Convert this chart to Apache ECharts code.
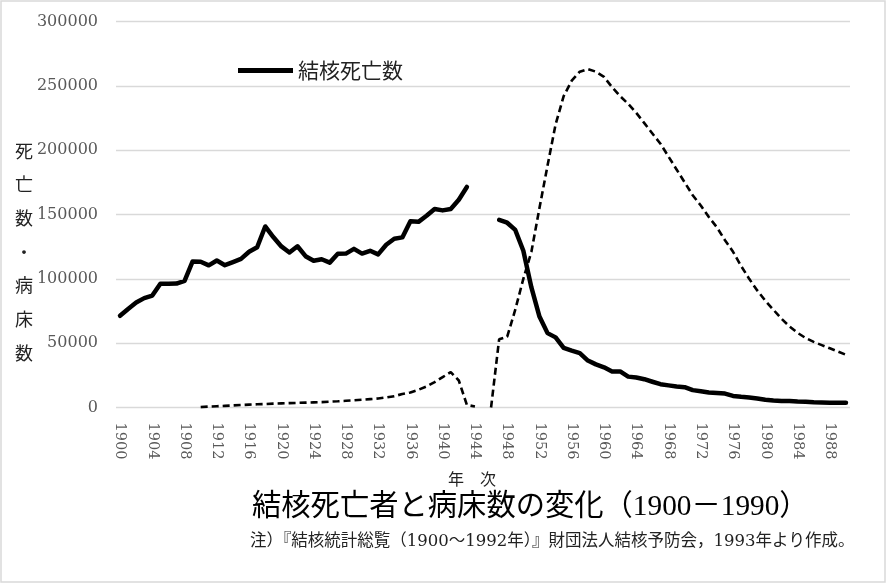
<!DOCTYPE html>
<html>
<head>
<meta charset="utf-8">
<script src="https://cdn.jsdelivr.net/npm/echarts@6/dist/echarts.min.js"></script>
<style>
  html, body { margin: 0; padding: 0; background: #fff; }
  #chart { width: 888px; height: 584px; }
</style>
</head>
<body>
<div id="chart"></div>
<script>
// years 1900..1990
const years = [];
for (let y = 1900; y <= 1990; y++) years.push(String(y));

// 結核死亡数 (1944-1946 no data)
const deaths = [
  71300, 76600, 81600, 85000, 87000, 96200, 96200, 96300, 98500, 113500,
  113300, 110500, 114200, 110600, 113000, 115500, 121000, 124500, 140700, 132500,
  125200, 120500, 125300, 117600, 114000, 115200, 112600, 119500, 119600, 123300,
  119600, 121800, 119000, 126500, 131200, 132200, 144800, 144300, 149000, 154300,
  153200, 154300, 161500, 171400, null, null, null, 145800, 143600, 138000,
  121800, 93300, 70700, 57800, 54500, 46300, 44200, 42300, 36500, 33500,
  31200, 28000, 28000, 24000, 23300, 22000, 20000, 18100, 17200, 16300,
  15800, 13500, 12600, 11700, 11200, 10800, 9000, 8300, 7800, 7000,
  6000, 5400, 5000, 5000, 4600, 4500, 4000, 3800, 3700, 3600,
  3600
];

// 病床数 (from 1910, 1945 no data)
const beds = [
  null, null, null, null, null, null, null, null, null, null,
  300, 700, 1000, 1300, 1600, 1900, 2200, 2500, 2700, 3000,
  3200, 3400, 3600, 3800, 4000, 4200, 4500, 4800, 5200, 5600,
  6000, 6500, 7000, 7800, 8800, 10500, 11700, 13800, 16300, 19700,
  23600, 27500, 21000, 2000, 800, null, 0, 53000, 55000, 76000,
  100000, 121000, 155000, 188000, 220000, 242000, 254000, 261000, 263000, 261000,
  257000, 249000, 242000, 236000, 229000, 221000, 213000, 205000, 195000, 185000,
  175000, 165000, 157000, 148000, 140000, 130000, 121000, 110000, 100000, 91000,
  83000, 76000, 69000, 63000, 58000, 54000, 51000, 48500, 46000, 43500,
  41000
];

const yTitle = ['死', '亡', '数', '・', '病', '床', '数'];

const cjk = '"Noto Sans CJK JP"';
const chart = echarts.init(document.getElementById('chart'), null, {renderer: 'canvas'});

chart.setOption({
  backgroundColor: '#fff',
  animation: false,
  grid: {left: 116, right: 38, top: 21.5, bottom: 176.5, containLabel: false},
  legend: {
    data: ['結核死亡数'],
    left: 238, top: 60, padding: 0,
    icon: 'rect', itemWidth: 55, itemHeight: 5,
    textStyle: {fontFamily: cjk, fontSize: 21, color: '#222'}
  },
  xAxis: {
    type: 'category',
    data: years,
    boundaryGap: true,
    axisLine: {show: false},
    axisTick: {show: false},
    axisLabel: {
      interval: 3, rotate: -90, margin: 15,
      color: '#595959', fontFamily: '"DejaVu Serif"', fontSize: 14.5
    }
  },
  yAxis: {
    type: 'value',
    min: 0, max: 300000, interval: 50000,
    axisLine: {show: false},
    axisTick: {show: false},
    splitLine: {lineStyle: {color: '#d9d9d9', width: 1.3}},
    axisLabel: {
      margin: 18, color: '#595959', fontFamily: '"DejaVu Serif"', fontSize: 16,
      formatter: v => String(v)
    }
  },
  series: [
    {
      name: '結核死亡数', type: 'line', data: deaths,
      symbol: 'none', connectNulls: false,
      itemStyle: {color: '#000'},
      lineStyle: {color: '#000', width: 4.5, cap: 'round', join: 'round'}
    },
    {
      name: '病床数', type: 'line', data: beds,
      symbol: 'none', connectNulls: false,
      itemStyle: {color: '#000'},
      lineStyle: {color: '#000', width: 2.6, type: [7, 4]}
    }
  ],
  graphic: [
    {
      type: 'rect', silent: true,
      shape: {x: 1, y: 1, width: 884, height: 581},
      style: {fill: 'none', stroke: '#d9d9d9', lineWidth: 1.5}
    },
    {
      type: 'text', x: 24, y: 134,
      style: {text: yTitle.join('\n'), fontFamily: cjk, fontSize: 18, lineHeight: 33.7,
              fill: '#222', align: 'center', verticalAlign: 'top'}
    },
    {
      type: 'text', left: 448, top: 471,
      style: {text: '年　次', fontFamily: cjk, fontSize: 16, fill: '#222'}
    },
    {
      type: 'text', left: 252, top: 493,
      style: {text: '結核死亡者と病床数の変化（1900－1990）',
              fontFamily: '"Liberation Serif", ' + cjk, fontSize: 29.3, fill: '#000'}
    },
    {
      type: 'text', left: 250, top: 533,
      style: {text: '注）『結核統計総覧（1900～1992年）』財団法人結核予防会，1993年より作成。',
              fontFamily: '"DejaVu Serif", ' + cjk, fontSize: 16.5, fill: '#222'}
    }
  ]
});
</script>
</body>
</html>
